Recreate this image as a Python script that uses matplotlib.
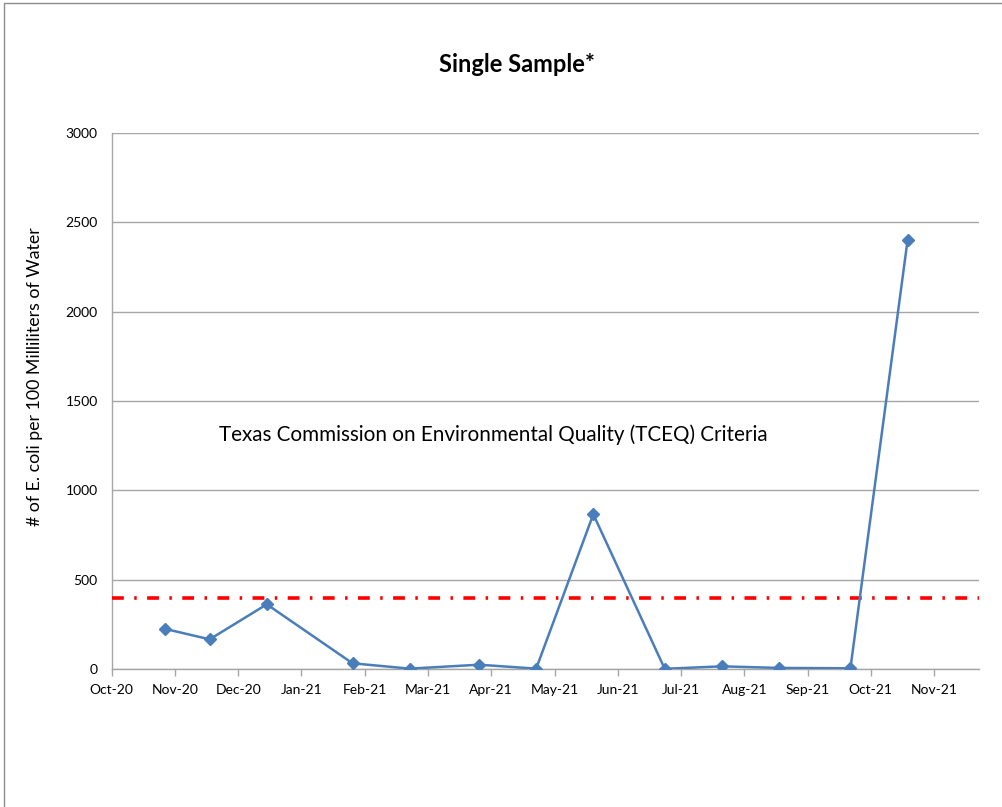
import matplotlib
matplotlib.use("Agg")
import matplotlib.pyplot as plt
import matplotlib.dates as mdates
import numpy as np
import pandas as pd
from matplotlib.patches import Rectangle

plt.rcParams['font.family'] = ['Lato', 'DejaVu Sans']
plt.rcParams['lines.scale_dashes'] = False

# ---- data ----
sample_dates = ["2020-10-27", "2020-11-18", "2020-12-16", "2021-01-27", "2021-02-24",
                "2021-03-30", "2021-04-27", "2021-05-25", "2021-06-29", "2021-07-27",
                "2021-08-24", "2021-09-28", "2021-10-26"]
ecoli_values = [225, 166, 362, 32, 2, 24, 2, 866, 1, 15, 6, 4, 2400]
criteria_value = 400
tick_labels = ["Oct-20", "Nov-20", "Dec-20", "Jan-21", "Feb-21", "Mar-21", "Apr-21",
               "May-21", "Jun-21", "Jul-21", "Aug-21", "Sep-21", "Oct-21", "Nov-21"]
y_ticks = [0, 500, 1000, 1500, 2000, 2500, 3000]

title = "Single Sample*"
ylabel = "# of E. coli per 100 Milliliters of Water"
annotation = "Texas Commission on Environmental Quality (TCEQ) Criteria"

# ---- figure ----
W, H = 1003, 807
fig = plt.figure(figsize=(W / 100, H / 100), dpi=100)
fig.patch.set_facecolor('white')

# outer chart border (left/top visible)
fig.patches.append(Rectangle((4 / W, -20 / H), 1.1, 1 - 3 / H + 20 / H,
                             transform=fig.transFigure, fill=False,
                             edgecolor='#8c8c8c', linewidth=1.0))

left, right, top, bottom = 111.7, 979, 133, 669
ax = fig.add_axes([left / W, 1 - bottom / H, (right - left) / W, (bottom - top) / H])

dates = pd.to_datetime(sample_dates)
start = pd.Timestamp("2020-10-01")
end = pd.Timestamp("2021-11-30")
tick_pos = pd.date_range(start, periods=len(tick_labels), freq="31D")

ax.axhline(criteria_value, color='#ff0000', linewidth=2.6,
           linestyle=(0, (8.5, 7.5, 1.8, 7.5)), dash_capstyle='butt', zorder=3)

ax.plot(dates, ecoli_values, color='#4a7ebb', linewidth=1.8, marker='D',
        markersize=6.5, markerfacecolor='#4a7ebb', markeredgecolor='#4a7ebb', zorder=4)

ax.set_xlim(start, end)
ax.set_ylim(0, 3000)
ax.set_yticks(y_ticks)
ax.set_yticklabels([str(v) for v in y_ticks])
ax.set_xticks(tick_pos)
ax.set_xticklabels(tick_labels)

ax.grid(axis='y', color='#a6a6a6', linewidth=1.0)
ax.set_axisbelow(True)
for s in ['top', 'right']:
    ax.spines[s].set_visible(False)
for s in ['left', 'bottom']:
    ax.spines[s].set_color('#a6a6a6')
    ax.spines[s].set_linewidth(1.0)

ax.tick_params(axis='x', direction='out', length=5, width=1, color='#a6a6a6',
               labelsize=10, pad=6, labelcolor='black')
ax.tick_params(axis='y', length=0, labelsize=10, pad=10, labelcolor='black')

ax.set_ylabel(ylabel, fontsize=12.8)
ax.yaxis.set_label_coords(-0.079, 0.545)

fig.text(517 / W, 1 - 65 / H, title, ha='center', va='center',
         fontsize=17, fontweight='bold')
ax.text(pd.Timestamp("2021-04-06"), 1310, annotation, ha='center', va='center',
        fontsize=14.9)

fig.savefig("out.png", dpi=100, facecolor='white')
